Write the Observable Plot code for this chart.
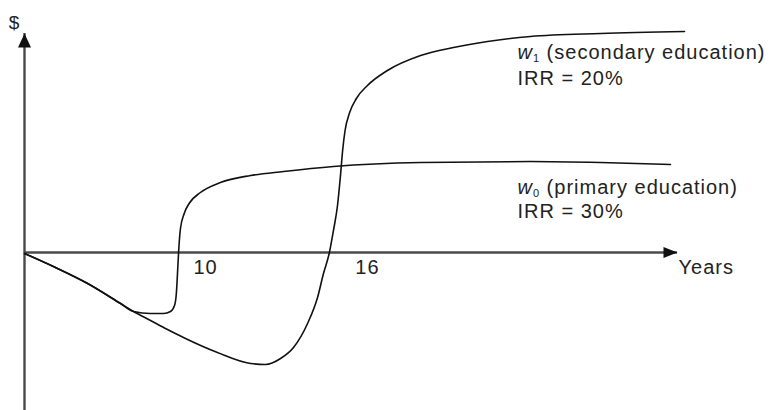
<!DOCTYPE html>
<html><head><meta charset="utf-8">
<script src="https://cdn.jsdelivr.net/npm/d3@7"></script>
<script src="https://cdn.jsdelivr.net/npm/@observablehq/plot@0.6"></script>
<style>
html,body{margin:0;padding:0;background:#fff;}
#chart svg{display:block;}
</style></head><body><div id="chart"></div>
<script>
// Axis extents (years, $ in arbitrary units)
const xDomain = [4, 28.2];
const yDomain = [-15.8, 21.9];
const tickLabels = [10, 16];
const xAxisLabel = "Years";
const yAxisLabel = "$";

// Series
const seriesKeys = ["w0", "w1"];
const seriesDescriptions = ["(primary education)", "(secondary education)"];
const irrLabels = ["IRR = 30%", "IRR = 20%"];

const w0Years  = [4.00, 5.07, 6.34, 7.56, 8.04, 8.67, 9.15, 9.41, 9.56, 9.63, 9.67, 9.71, 9.78, 9.92, 10.10, 10.52, 11.26, 12.38, 13.60, 15.45, 18.68, 22.75, 25.35, 27.94];
const w0Values = [-0.1, -1.4, -3.1, -5.1, -5.9, -6.1, -6.1, -5.9, -5.3, -4.0, -2.1, 0.0, 2.4, 3.9, 4.9, 6.0, 7.0, 7.7, 8.1, 8.6, 9.0, 9.1, 9.0, 8.8];

const w1Years  = [4.00, 5.07, 6.34, 7.56, 8.04, 8.67, 9.30, 9.89, 11.15, 12.38, 12.93, 13.49, 13.97, 14.49, 14.86, 15.08, 15.30, 15.45, 15.60, 15.71, 15.79, 15.88, 16.05, 16.30, 16.71, 17.45, 18.68, 19.90, 21.16, 22.75, 25.35, 28.46];
const w1Values = [-0.1, -1.4, -3.1, -5.1, -5.9, -6.8, -7.7, -8.5, -10.0, -11.1, -11.2, -10.6, -9.5, -7.1, -4.5, -2.1, 0.0, 2.2, 4.7, 7.7, 10.2, 12.2, 14.0, 15.4, 16.7, 18.2, 19.7, 20.5, 21.1, 21.6, 21.9, 22.1];

const rows = [
  ...w0Years.map((x, i) => ({series: "w0", x, y: w0Values[i]})),
  ...w1Years.map((x, i) => ({series: "w1", x, y: w1Values[i]}))
];

// label placement (data units)
const labelX = 22.27;
const labelRows = [
  {text: seriesKeys[1] + " " + seriesDescriptions[1], y: 20.8},
  {text: irrLabels[1], y: 18.2},
  {text: seriesKeys[0] + " " + seriesDescriptions[0], y: 7.3},
  {text: irrLabels[0], y: 4.9}
];

const arrowRight = {draw(ctx){ ctx.moveTo(0,0); ctx.lineTo(-14,-5.5); ctx.lineTo(-14,5.5); ctx.closePath(); }};
const arrowUp = {draw(ctx){ ctx.moveTo(0,0); ctx.lineTo(-6.5,14); ctx.lineTo(6.5,14); ctx.closePath(); }};

const font = "Liberation Sans, Arial, Helvetica, sans-serif";
const axisColor = "#4a4a4a";
const textColor = "#222";

const chart = Plot.plot({
  width: 771,
  height: 410,
  marginLeft: 24,
  marginRight: 94,
  marginTop: 33,
  marginBottom: 0,
  x: {domain: xDomain, axis: null},
  y: {domain: yDomain, axis: null},
  style: {background: "#fff", letterSpacing: "1px"},
  marks: [
    Plot.ruleY([0], {x1: xDomain[0], x2: xDomain[1], stroke: axisColor, strokeWidth: 2.4}),
    Plot.ruleX([xDomain[0]], {y1: yDomain[0], y2: yDomain[1], stroke: axisColor, strokeWidth: 2.4}),
    Plot.dot([[xDomain[1], 0]], {x: d => d[0], y: d => d[1], symbol: arrowRight, fill: "#111", stroke: null}),
    Plot.dot([[xDomain[0], yDomain[1]]], {x: d => d[0], y: d => d[1], symbol: arrowUp, fill: "#111", stroke: null}),
    Plot.line(rows, {x: "x", y: "y", z: "series", curve: "monotone-x", stroke: "#111", strokeWidth: 1.6}),
    Plot.text(tickLabels, {x: d => d, y: 0, text: d => String(d), textAnchor: "start", lineAnchor: "top", dx: 7, dy: 7, fontSize: 20, fontFamily: font, fill: textColor}),
    Plot.text([xAxisLabel], {x: xDomain[1], y: 0, text: d => d, textAnchor: "start", lineAnchor: "top", dx: 1, dy: 7, fontSize: 20, fontFamily: font, fill: textColor}),
    Plot.text([yAxisLabel], {x: xDomain[0], y: yDomain[1], text: d => d, textAnchor: "middle", lineAnchor: "top", dx: -10, dy: -18, fontSize: 19, fontFamily: font, fill: textColor}),
    Plot.text(labelRows, {x: labelX, y: "y", text: "text", textAnchor: "start", lineAnchor: "top", fontSize: 20, fontFamily: font, fill: textColor})
  ]
});

// italic w with subscript index
d3.select(chart).selectAll("text").each(function() {
  const m = /^w([01]) (.*)$/.exec(this.textContent);
  if (!m) return;
  const s = d3.select(this);
  s.text(null);
  s.append("tspan").attr("font-style", "italic").text("w");
  s.append("tspan").attr("font-size", 11).attr("dy", 3).text(m[1]);
  s.append("tspan").attr("dy", -3).text(" " + m[2]);
});

document.getElementById("chart").appendChild(chart);
</script>
</body></html>
